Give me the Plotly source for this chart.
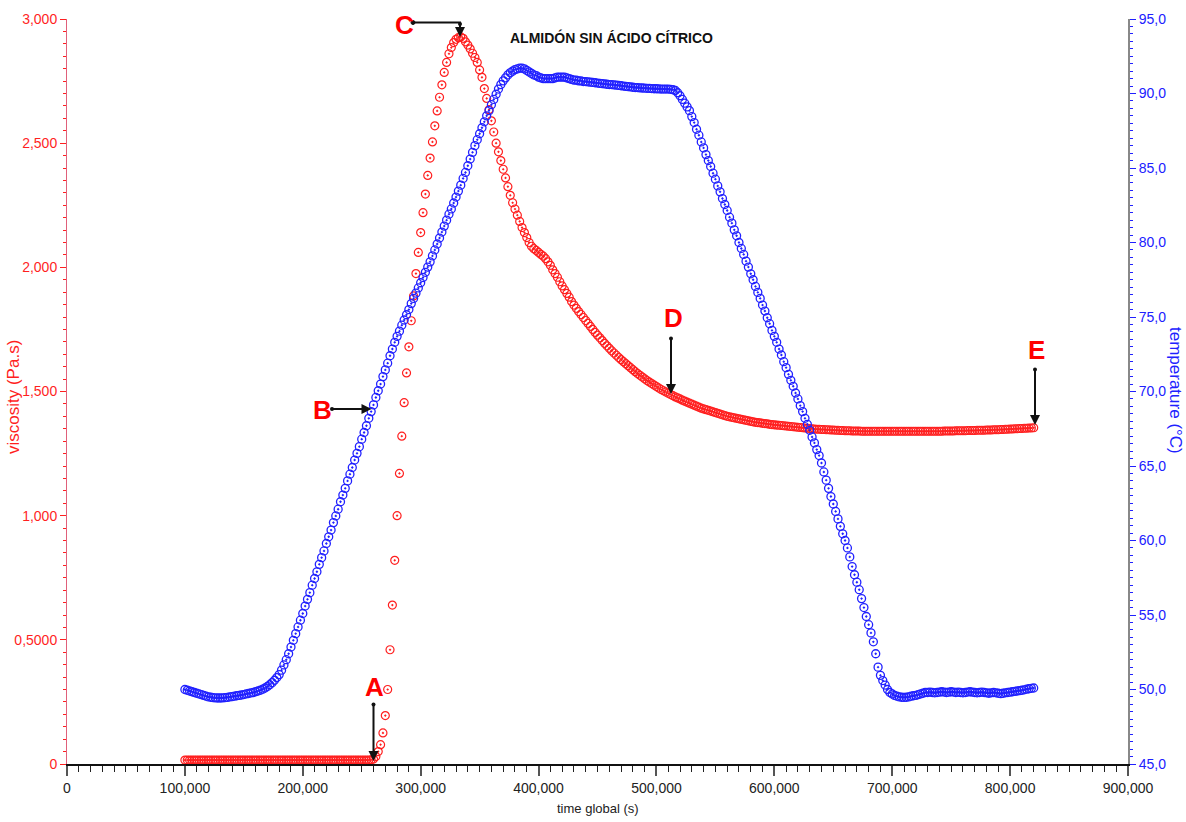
import plotly.graph_objects as go

# ---------------- data ----------------
TIME = [
    100000, 102000, 104000, 106000, 108000, 110000, 112000, 114000, 116000, 118000,
    120000, 122000, 124000, 126000, 128000, 130000, 132000, 134000, 136000, 138000,
    140000, 142000, 144000, 146000, 148000, 150000, 152000, 154000, 156000, 158000,
    160000, 162000, 164000, 166000, 168000, 170000, 172000, 174000, 176000, 178000,
    180000, 182000, 184000, 186000, 188000, 190000, 192000, 194000, 196000, 198000,
    200000, 202000, 204000, 206000, 208000, 210000, 212000, 214000, 216000, 218000,
    220000, 222000, 224000, 226000, 228000, 230000, 232000, 234000, 236000, 238000,
    240000, 242000, 244000, 246000, 248000, 250000, 252000, 254000, 256000, 258000,
    260000, 262000, 264000, 266000, 268000, 270000, 272000, 274000, 276000, 278000,
    280000, 282000, 284000, 286000, 288000, 290000, 292000, 294000, 296000, 298000,
    300000, 302000, 304000, 306000, 308000, 310000, 312000, 314000, 316000, 318000,
    320000, 322000, 324000, 326000, 328000, 330000, 332000, 334000, 336000, 338000,
    340000, 342000, 344000, 346000, 348000, 350000, 352000, 354000, 356000, 358000,
    360000, 362000, 364000, 366000, 368000, 370000, 372000, 374000, 376000, 378000,
    380000, 382000, 384000, 386000, 388000, 390000, 392000, 394000, 396000, 398000,
    400000, 402000, 404000, 406000, 408000, 410000, 412000, 414000, 416000, 418000,
    420000, 422000, 424000, 426000, 428000, 430000, 432000, 434000, 436000, 438000,
    440000, 442000, 444000, 446000, 448000, 450000, 452000, 454000, 456000, 458000,
    460000, 462000, 464000, 466000, 468000, 470000, 472000, 474000, 476000, 478000,
    480000, 482000, 484000, 486000, 488000, 490000, 492000, 494000, 496000, 498000,
    500000, 502000, 504000, 506000, 508000, 510000, 512000, 514000, 516000, 518000,
    520000, 522000, 524000, 526000, 528000, 530000, 532000, 534000, 536000, 538000,
    540000, 542000, 544000, 546000, 548000, 550000, 552000, 554000, 556000, 558000,
    560000, 562000, 564000, 566000, 568000, 570000, 572000, 574000, 576000, 578000,
    580000, 582000, 584000, 586000, 588000, 590000, 592000, 594000, 596000, 598000,
    600000, 602000, 604000, 606000, 608000, 610000, 612000, 614000, 616000, 618000,
    620000, 622000, 624000, 626000, 628000, 630000, 632000, 634000, 636000, 638000,
    640000, 642000, 644000, 646000, 648000, 650000, 652000, 654000, 656000, 658000,
    660000, 662000, 664000, 666000, 668000, 670000, 672000, 674000, 676000, 678000,
    680000, 682000, 684000, 686000, 688000, 690000, 692000, 694000, 696000, 698000,
    700000, 702000, 704000, 706000, 708000, 710000, 712000, 714000, 716000, 718000,
    720000, 722000, 724000, 726000, 728000, 730000, 732000, 734000, 736000, 738000,
    740000, 742000, 744000, 746000, 748000, 750000, 752000, 754000, 756000, 758000,
    760000, 762000, 764000, 766000, 768000, 770000, 772000, 774000, 776000, 778000,
    780000, 782000, 784000, 786000, 788000, 790000, 792000, 794000, 796000, 798000,
    800000, 802000, 804000, 806000, 808000, 810000, 812000, 814000, 816000, 818000,
    820000,
]

VISCOSITY = [
    16, 16, 16, 16, 16, 16, 16, 16, 16, 16,
    16, 16, 16, 16, 16, 16, 16, 16, 16, 16,
    16, 16, 16, 16, 16, 16, 16, 16, 16, 16,
    16, 16, 16, 16, 16, 16, 16, 16, 16, 16,
    16, 16, 16, 16, 16, 16, 16, 16, 16, 16,
    16, 16, 16, 16, 16, 16, 16, 16, 16, 16,
    16, 16, 16, 16, 16, 16, 16, 16, 16, 16,
    16, 16, 16, 16, 16, 16, 16, 16, 16, 17,
    20, 30, 50, 78, 125, 195, 300, 460, 640, 820,
    1000, 1170, 1320, 1455, 1575, 1680, 1785, 1885, 1975, 2060,
    2140, 2220, 2295, 2370, 2440, 2505, 2570, 2630, 2685, 2735,
    2785, 2825, 2860, 2885, 2905, 2918, 2925, 2928, 2922, 2908,
    2895, 2880, 2862, 2845, 2825, 2795, 2765, 2720, 2680, 2635,
    2590, 2545, 2500, 2465, 2430, 2395, 2360, 2325, 2290, 2260,
    2235, 2210, 2185, 2160, 2140, 2120, 2100, 2085, 2075, 2068,
    2060, 2052, 2045, 2035, 2022, 2008, 1990, 1975, 1960, 1942,
    1925, 1910, 1895, 1880, 1862, 1848, 1835, 1822, 1810, 1798,
    1786, 1774, 1762, 1750, 1738, 1727, 1716, 1705, 1694, 1684,
    1674, 1664, 1655, 1646, 1637, 1628, 1620, 1612, 1604, 1596,
    1588, 1580, 1572, 1565, 1558, 1551, 1544, 1538, 1532, 1526,
    1520, 1514, 1508, 1503, 1498, 1493, 1488, 1483, 1478, 1474,
    1470, 1465, 1461, 1457, 1453, 1449, 1445, 1441, 1437, 1433,
    1430, 1427, 1424, 1421, 1418, 1415, 1412, 1409, 1406, 1403,
    1400, 1398, 1396, 1394, 1392, 1390, 1388, 1386, 1384, 1382,
    1380, 1378, 1376, 1375, 1374, 1372, 1371, 1370, 1368, 1367,
    1366, 1365, 1364, 1363, 1362, 1361, 1360, 1359, 1358, 1357,
    1356, 1355, 1354, 1353, 1352, 1351, 1350, 1349, 1348, 1348,
    1347, 1347, 1346, 1346, 1345, 1345, 1344, 1344, 1343, 1343,
    1342, 1342, 1342, 1341, 1341, 1341, 1341, 1340, 1340, 1340,
    1340, 1340, 1340, 1340, 1340, 1340, 1340, 1340, 1340, 1340,
    1340, 1340, 1340, 1340, 1340, 1340, 1340, 1340, 1340, 1340,
    1340, 1340, 1340, 1340, 1340, 1340, 1340, 1340, 1340, 1340,
    1340, 1340, 1341, 1341, 1341, 1341, 1341, 1342, 1342, 1342,
    1342, 1342, 1343, 1343, 1343, 1343, 1344, 1344, 1344, 1344,
    1345, 1345, 1345, 1346, 1346, 1346, 1347, 1347, 1348, 1348,
    1349, 1349, 1350, 1350, 1351, 1351, 1352, 1352, 1353, 1353,
    1354,
]

TEMPERATURE = [
    50.0, 49.95, 49.9, 49.85, 49.8, 49.75, 49.7, 49.65, 49.6, 49.55,
    49.5, 49.48, 49.45, 49.44, 49.43, 49.43, 49.44, 49.45, 49.47, 49.5,
    49.52, 49.55, 49.58, 49.6, 49.63, 49.66, 49.7, 49.73, 49.77, 49.8,
    49.85, 49.9, 49.95, 50.02, 50.1, 50.2, 50.32, 50.46, 50.62, 50.8,
    51.0, 51.3, 51.65, 52.0, 52.4, 52.85, 53.3, 53.75, 54.2, 54.65,
    55.1, 55.6, 56.05, 56.5, 57.0, 57.45, 57.9, 58.4, 58.85, 59.3,
    59.8, 60.25, 60.7, 61.2, 61.65, 62.1, 62.6, 63.05, 63.5, 64.0,
    64.45, 64.9, 65.4, 65.85, 66.3, 66.8, 67.25, 67.7, 68.2, 68.65,
    69.1, 69.6, 70.05, 70.5, 71.0, 71.45, 71.9, 72.4, 72.85, 73.3,
    73.7, 74.05, 74.45, 74.8, 75.15, 75.5, 75.9, 76.25, 76.6, 76.95,
    77.3, 77.65, 78.0, 78.35, 78.7, 79.1, 79.5, 79.9, 80.3, 80.7,
    81.1, 81.5, 81.9, 82.25, 82.65, 83.05, 83.45, 83.85, 84.3, 84.7,
    85.15, 85.6, 86.05, 86.5, 86.9, 87.3, 87.7, 88.1, 88.5, 88.85,
    89.25, 89.6, 89.95, 90.3, 90.6, 90.85, 91.05, 91.25, 91.4, 91.5,
    91.6, 91.65, 91.7, 91.7, 91.65, 91.55, 91.45, 91.35, 91.25, 91.2,
    91.1, 91.05, 91.0, 91.0, 91.0, 91.0, 91.0, 91.05, 91.1, 91.1,
    91.1, 91.1, 91.05, 91.0, 90.95, 90.9, 90.9, 90.85, 90.85, 90.8,
    90.8, 90.78, 90.76, 90.74, 90.72, 90.7, 90.68, 90.66, 90.64, 90.62,
    90.6, 90.6, 90.58, 90.56, 90.54, 90.52, 90.5, 90.48, 90.46, 90.44,
    90.42, 90.4, 90.4, 90.38, 90.37, 90.36, 90.35, 90.34, 90.33, 90.32,
    90.32, 90.31, 90.3, 90.3, 90.3, 90.3, 90.28, 90.25, 90.2, 90.05,
    89.85, 89.6, 89.35, 89.1, 88.85, 88.45, 88.05, 87.6, 87.2, 86.75,
    86.35, 85.9, 85.5, 85.1, 84.65, 84.25, 83.8, 83.4, 82.95, 82.55,
    82.15, 81.7, 81.3, 80.85, 80.45, 80.0, 79.6, 79.2, 78.75, 78.35,
    77.9, 77.5, 77.05, 76.65, 76.25, 75.8, 75.4, 74.95, 74.55, 74.1,
    73.7, 73.3, 72.85, 72.45, 72.0, 71.6, 71.15, 70.75, 70.35, 69.9,
    69.5, 69.05, 68.65, 68.2, 67.8, 67.4, 66.95, 66.55, 66.1, 65.7,
    65.2, 64.6, 64.05, 63.5, 62.95, 62.45, 61.95, 61.45, 60.95, 60.45,
    60.0, 59.5, 58.9, 58.25, 57.7, 57.2, 56.7, 56.1, 55.5, 54.9,
    54.35, 53.8, 53.2, 52.4, 51.5, 50.95, 50.6, 50.3, 50.0, 49.8,
    49.7, 49.6, 49.55, 49.5, 49.48, 49.47, 49.48, 49.5, 49.55, 49.58,
    49.6, 49.65, 49.7, 49.75, 49.8, 49.8, 49.82, 49.8, 49.78, 49.8,
    49.82, 49.85, 49.83, 49.8, 49.82, 49.85, 49.83, 49.8, 49.82, 49.8,
    49.78, 49.8, 49.83, 49.85, 49.82, 49.8, 49.78, 49.8, 49.82, 49.8,
    49.78, 49.75, 49.78, 49.8, 49.78, 49.75, 49.72, 49.75, 49.78, 49.8,
    49.82, 49.85, 49.88, 49.9, 49.92, 49.95, 49.98, 50.02, 50.05, 50.08,
    50.1,
]

X_TICKS = [0, 100000, 200000, 300000, 400000, 500000, 600000, 700000, 800000, 900000]
X_TICK_TEXT = ["0", "100,000", "200,000", "300,000", "400,000", "500,000",
               "600,000", "700,000", "800,000", "900,000"]
Y1_TICKS = [0, 500, 1000, 1500, 2000, 2500, 3000]
Y1_TICK_TEXT = ["0", "0,5000", "1,000", "1,500", "2,000", "2,500", "3,000"]
Y2_TICKS = [45, 50, 55, 60, 65, 70, 75, 80, 85, 90, 95]
Y2_TICK_TEXT = ["45,0", "50,0", "55,0", "60,0", "65,0", "70,0", "75,0",
                "80,0", "85,0", "90,0", "95,0"]

# ---------------- styling ----------------
W, H = 1186, 822
ML, MR, MT, MB = 67, 58, 19, 58
PW, PH = W - ML - MR, H - MT - MB

RED = "#ff1f1f"
BLUE = "#2020ff"
FONT = "Liberation Sans, Arial, sans-serif"


def px(x):
    return (x - ML) / PW


def py(y):
    return (MT + PH - y) / PH


fig = go.Figure()
fig.add_trace(go.Scatter(
    x=TIME, y=VISCOSITY, mode="markers", name="viscosity",
    marker=dict(symbol="circle-open-dot", size=8, color=RED, line=dict(width=1.2, color=RED)),
    yaxis="y",
))
fig.add_trace(go.Scatter(
    x=TIME, y=TEMPERATURE, mode="markers", name="temperature",
    marker=dict(symbol="circle-open-dot", size=8, color=BLUE, line=dict(width=1.3, color=BLUE)),
    yaxis="y2",
))

fig.update_layout(
    width=W, height=H,
    margin=dict(l=ML, r=MR, t=MT, b=MB, pad=0),
    paper_bgcolor="white", plot_bgcolor="white",
    showlegend=False,
    xaxis=dict(
        range=[0, 900000], tickvals=X_TICKS, ticktext=X_TICK_TEXT,
        showgrid=False, zeroline=False, showline=True, linecolor="#111", linewidth=2,
        ticks="outside", ticklen=10, tickwidth=2, tickcolor="#555",
        tickfont=dict(family=FONT, size=14, color="#222"),
        minor=dict(dtick=10000, ticks="outside", ticklen=6, tickwidth=1, tickcolor="#222", showgrid=False),
    ),
    yaxis=dict(
        range=[0, 3000], tickvals=Y1_TICKS, ticktext=Y1_TICK_TEXT,
        showgrid=False, zeroline=False, showline=True, linecolor="#e0607a", linewidth=1,
        ticks="outside", ticklen=6, tickwidth=1, tickcolor=RED,
        tickfont=dict(family=FONT, size=14, color=RED),
        minor=dict(dtick=50, ticks="outside", ticklen=3, tickwidth=1, tickcolor=RED, showgrid=False),
    ),
    yaxis2=dict(
        range=[45, 95], tickvals=Y2_TICKS, ticktext=Y2_TICK_TEXT,
        overlaying="y", side="right", anchor="x",
        showgrid=False, zeroline=False, showline=True, linecolor="#888", linewidth=2,
        ticks="outside", ticklen=6, tickwidth=1, tickcolor=BLUE,
        tickfont=dict(family=FONT, size=14, color=BLUE),
        minor=dict(dtick=0.5, ticks="outside", ticklen=3, tickwidth=1, tickcolor=BLUE, showgrid=False),
    ),
)

ann = []


def label(text, x, y, size, color, angle=0):
    ann.append(dict(x=px(x), y=py(y), xref="paper", yref="paper", showarrow=False,
                    xanchor="center", yanchor="middle", text=text, textangle=angle,
                    font=dict(family=FONT, size=size, color=color)))


# titles
label("<b>ALMIDÓN SIN ÁCIDO CÍTRICO</b>", 611, 38, 14, "#111")
label("time global (s)", 598, 808, 13, "#222")
label("viscosity (Pa.s)", 13, 397, 17, RED, -90)
label("temperature (°C)", 1176, 390, 17, BLUE, 90)

# letters
for txt, lx, ly in [("A", 374, 687), ("B", 322, 410), ("C", 404, 25), ("D", 673, 318), ("E", 1036, 350)]:
    label("<b>%s</b>" % txt, lx, ly, 26, "#ff0000")

# arrows (tip x, tip y, tail offset ax, ay in pixels)
for tx, ty, ax, ay in [(373.5, 761, 0, -58), (371.5, 409, -41, 0), (460, 37, 0, -14.5),
                       (671, 394, 0, -57), (1035, 425, 0, -57)]:
    ann.append(dict(x=px(tx), y=py(ty), xref="paper", yref="paper", showarrow=True,
                    ax=ax, ay=ay, arrowhead=2, arrowsize=1, arrowwidth=2, arrowcolor="#111",
                    arrowside="end+start", startarrowhead=6, startarrowsize=0.5, text=""))
fig.update_layout(annotations=ann)

# horizontal leg of the bent C arrow
fig.add_shape(type="line", xref="paper", yref="paper",
              x0=px(413), y0=py(22.5), x1=px(461), y1=py(22.5),
              line=dict(color="#111", width=2))
fig.add_shape(type="circle", xref="paper", yref="paper",
              x0=px(411), y0=py(24.5), x1=px(415), y1=py(20.5),
              line=dict(color="#111", width=1), fillcolor="#111")

fig.write_html("out.html")
